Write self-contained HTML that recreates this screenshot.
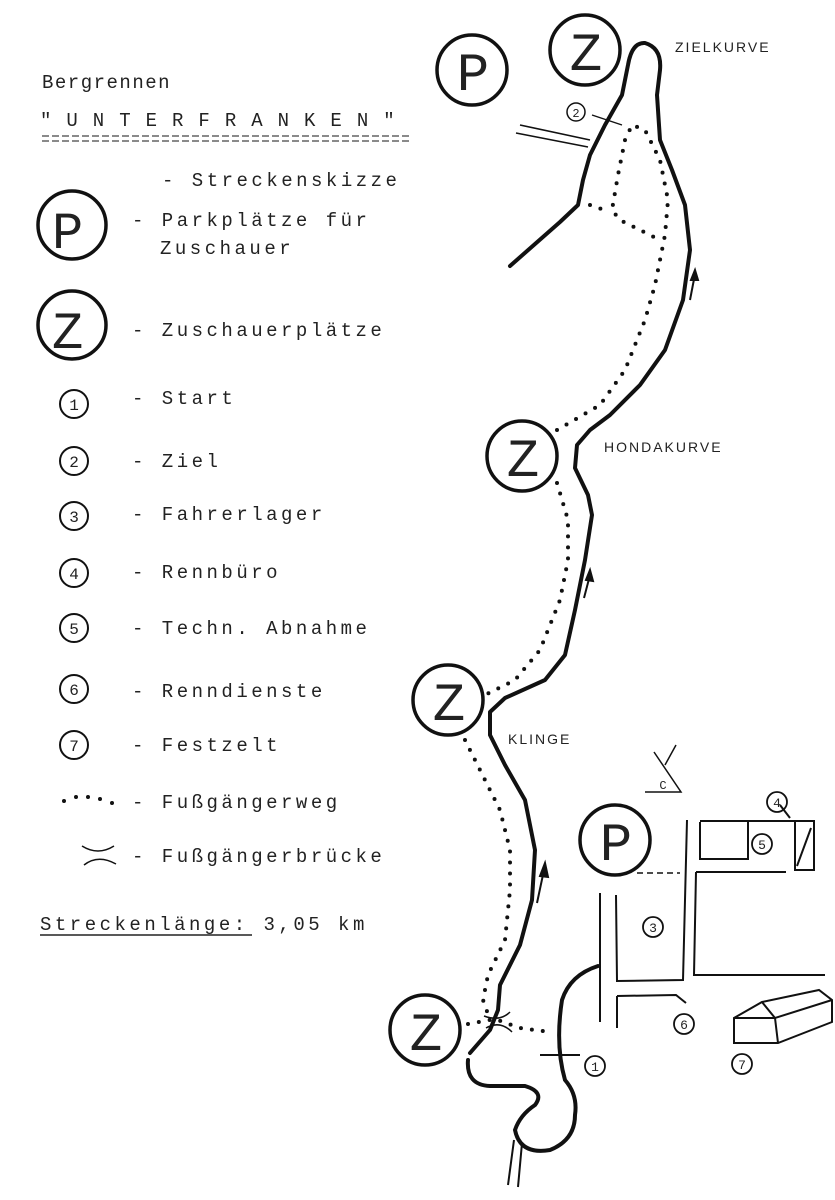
<!DOCTYPE html>
<html><head><meta charset="utf-8"><style>
html,body{margin:0;padding:0;background:#fff;}
svg{display:block;}
text{font-family:"Liberation Mono",monospace;fill:#222;}
.s{font-family:"Liberation Sans",sans-serif;font-size:14px;letter-spacing:2px;}
</style></head><body>
<svg width="835" height="1200" viewBox="0 0 835 1200" xmlns="http://www.w3.org/2000/svg">
<rect width="835" height="1200" fill="#fff"/>
<!-- legend -->
<text x="42" y="88" font-size="19" letter-spacing="1.5">Bergrennen</text>
<text x="40" y="126" font-size="19" letter-spacing="15">"UNTERFRANKEN"</text>
<line x1="42" y1="136" x2="412" y2="136" stroke="#444" stroke-width="1.3" stroke-dasharray="7,3"/>
<line x1="42" y1="141" x2="412" y2="141" stroke="#444" stroke-width="1.3" stroke-dasharray="7,3"/>
<text x="162" y="186" font-size="19" letter-spacing="3.5">- Streckenskizze</text>
<g fill="none" stroke="#111" stroke-width="3.5">
<circle cx="72" cy="225" r="34"/><circle cx="72" cy="325" r="34"/>
</g>
<text x="52" y="248" font-size="52" font-family="Liberation Sans,sans-serif">P</text>
<text x="52" y="348" font-size="52" font-family="Liberation Sans,sans-serif">Z</text>
<text x="132" y="226" font-size="19" letter-spacing="3.5">- Parkplätze für</text>
<text x="160" y="254" font-size="19" letter-spacing="3.5">Zuschauer</text>
<text x="132" y="336" font-size="19" letter-spacing="3.5">- Zuschauerplätze</text>
<g fill="none" stroke="#111" stroke-width="2">
<circle cx="74" cy="404" r="14"/><circle cx="74" cy="461" r="14"/><circle cx="74" cy="516" r="14"/>
<circle cx="74" cy="573" r="14"/><circle cx="74" cy="628" r="14"/><circle cx="74" cy="689" r="14"/><circle cx="74" cy="745" r="14"/>
</g>
<g font-size="16" font-family="Liberation Sans,sans-serif" text-anchor="middle">
<text x="74" y="410">1</text><text x="74" y="467">2</text><text x="74" y="522">3</text><text x="74" y="579">4</text>
<text x="74" y="634">5</text><text x="74" y="695">6</text><text x="74" y="751">7</text></g>
<g font-size="19" letter-spacing="3.5">
<text x="132" y="404">- Start</text>
<text x="132" y="467">- Ziel</text>
<text x="132" y="520">- Fahrerlager</text>
<text x="132" y="578">- Rennbüro</text>
<text x="132" y="634">- Techn. Abnahme</text>
<text x="132" y="697">- Renndienste</text>
<text x="132" y="751">- Festzelt</text>
<text x="132" y="808">- Fußgängerweg</text>
<text x="132" y="862">- Fußgängerbrücke</text>
<text x="40" y="930">Streckenlänge: 3,05 km</text>
</g>
<line x1="40" y1="935" x2="252" y2="935" stroke="#222" stroke-width="1.5"/>
<g fill="#111"><circle cx="64" cy="801" r="2"/><circle cx="76" cy="797" r="2"/><circle cx="88" cy="797" r="2"/><circle cx="100" cy="799" r="2"/><circle cx="112" cy="803" r="2"/></g>
<path d="M82 846 Q98 856 114 846 M84 865 Q98 854 116 864" fill="none" stroke="#111" stroke-width="1.5"/>
<!-- map circles -->
<g fill="none" stroke="#111" stroke-width="3.5">
<circle cx="472" cy="70" r="35"/><circle cx="585" cy="50" r="35"/><circle cx="522" cy="456" r="35"/>
<circle cx="448" cy="700" r="35"/><circle cx="425" cy="1030" r="35"/><circle cx="615" cy="840" r="35"/>
</g>
<g font-size="54" font-family="Liberation Sans,sans-serif" text-anchor="middle" fill="#111">
<text x="473" y="90">P</text><text x="586" y="70">Z</text><text x="523" y="476">Z</text>
<text x="449" y="720">Z</text><text x="426" y="1050">Z</text><text x="616" y="860">P</text></g>
<text class="s" x="675" y="52">ZIELKURVE</text>
<text class="s" x="604" y="452">HONDAKURVE</text>
<text class="s" x="508" y="744">KLINGE</text>
<!-- track -->
<path d="M510 266 L560 222 L578 205 L583 180 L590 155 L605 125 L622 95 L628 65 Q632 42 645 43 Q662 48 660 70 L657 95 L660 140 L672 170 L685 205 L690 250 L683 300 L665 350 L640 385 L610 415 L590 430 L577 445 L575 468 L588 495 L592 515 L585 560 L575 610 L565 655 L545 680 L505 698 L490 712 L490 735 L505 765 L525 800 L535 850 L532 900 L520 945 L500 985 L498 1010 L490 1030 L470 1053" fill="none" stroke="#111" stroke-width="4" stroke-linejoin="round" stroke-linecap="round"/>
<path d="M468 1060 Q466 1085 490 1086 L525 1086 Q545 1092 535 1105 Q520 1115 515 1130 Q520 1155 550 1150 Q575 1140 575 1115 Q578 1095 565 1080 Q555 1045 562 1000 Q570 975 598 966" fill="none" stroke="#111" stroke-width="4" stroke-linecap="round"/>
<path d="M508 1185 L514 1140 M518 1187 L522 1143" stroke="#111" stroke-width="2"/>
<path d="M520 125 L590 140 M516 133 L588 147" stroke="#111" stroke-width="1.6"/>
<path d="M592 115 L622 125" stroke="#111" stroke-width="1.3"/>
<circle cx="576" cy="112" r="9" fill="none" stroke="#111" stroke-width="1.5"/>
<text x="576" y="117" font-size="12" text-anchor="middle" font-family="Liberation Sans,sans-serif">2</text>
<!-- arrows -->
<g stroke="#111" stroke-width="2" fill="#111">
<path d="M690 300 L695 274" /><path d="M695 270 L691 280 L698 280Z"/>
<path d="M584 598 L590 575"/><path d="M590 570 L586 580 L593 581Z"/>
<path d="M537 903 L544 870"/><path d="M545 863 L540 876 L548 877Z"/>
</g>
<!-- dotted paths -->
<g fill="none" stroke="#111" stroke-width="4" stroke-linecap="round" stroke-dasharray="0,11">
<path d="M557 430 L600 405 L625 370 L645 320 L655 285 L660 260 L665 235 L668 200 L660 160 L645 130 L632 125 L625 140 L618 175 L612 210 L620 220 L660 240"/>
<path d="M590 205 L610 212"/>
<path d="M557 483 L568 520 L568 560 L560 600 L540 650 L515 680 L485 695"/>
<path d="M465 740 L480 770 L500 810 L510 850 L510 890 L505 940 L488 975 L483 1000 L490 1020"/>
<path d="M468 1024 L495 1019 L520 1028 L550 1032"/>
</g>
<path d="M484 1016 Q500 1022 510 1012 M486 1028 Q500 1020 512 1032" fill="none" stroke="#111" stroke-width="1.5"/>
<!-- paddock -->
<g fill="none" stroke="#111" stroke-width="2">
<path d="M600 893 L600 1022 M616 895 L617 981 L683 980 L687 820"/>
<path d="M617 996 L676 995 L686 1003"/>
<path d="M617 996 L617 1028"/>
<path d="M700 822 L700 859 L748 859 L748 821 L700 821 M748 821 L794 821"/>
<path d="M696 872 L694 975 L825 975 M696 872 L786 872"/>
<rect x="795" y="821" width="19" height="49"/><path d="M797 866 L811 828 M790 818 L780 805"/>
<path d="M637 873 L680 873" stroke-dasharray="6,4" stroke-width="1.4"/>
<path d="M540 1055 L580 1055"/>
<path d="M734 1018 L734 1043 L778 1043 L832 1022 L832 1000 L819 990 L762 1002 L734 1018 Z M734 1018 L775 1018 L778 1043 M762 1002 L775 1018 L832 1000"/>
<path d="M654 752 L681 792 L664 792 M676 745 L665 765 M645 792 L680 792" stroke-width="1.5"/>
</g>
<g fill="none" stroke="#111" stroke-width="1.8">
<circle cx="653" cy="927" r="10"/><circle cx="762" cy="844" r="10"/><circle cx="777" cy="802" r="10"/>
<circle cx="684" cy="1024" r="10"/><circle cx="742" cy="1064" r="10"/><circle cx="595" cy="1066" r="10"/>
</g>
<g font-size="13" text-anchor="middle" font-family="Liberation Sans,sans-serif">
<text x="653" y="932">3</text><text x="762" y="849">5</text><text x="777" y="807">4</text>
<text x="684" y="1029">6</text><text x="742" y="1069">7</text><text x="595" y="1071">1</text>
<text x="663" y="789" font-size="12">C</text></g>
</svg>
</body></html>
